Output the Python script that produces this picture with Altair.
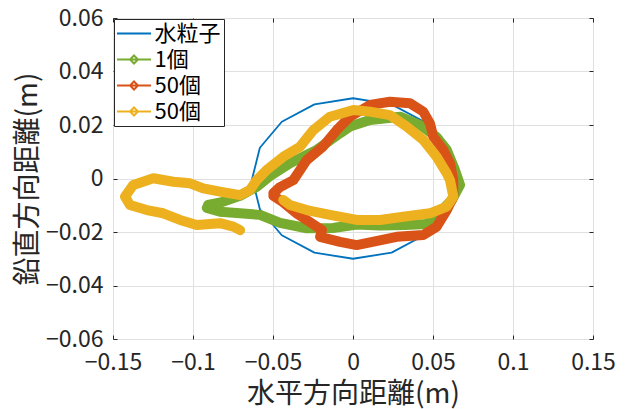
import altair as alt
import pandas as pd

# ---- data ----
series_keys = ["水粒子", "1個", "50個a", "50個b"]
series_colors = ["#0072BD", "#77AC30", "#D95319", "#EDB120"]

water_x = [0.0630, 0.0582, 0.0445, 0.0241, 0.0, -0.0241, -0.0445, -0.0582, -0.0630,
           -0.0582, -0.0445, -0.0241, 0.0, 0.0241, 0.0445, 0.0582, 0.0630]
water_y = [0.0, 0.0115, 0.0212, 0.0277, 0.0300, 0.0277, 0.0212, 0.0115, 0.0,
           -0.0115, -0.0212, -0.0277, -0.0300, -0.0277, -0.0212, -0.0115, 0.0]

one_x = [-0.0914, -0.0831, -0.0706, -0.0581, -0.0456, -0.0289, -0.0125, 0.0023, 0.0169,
         0.0325, 0.0461, 0.0544, 0.0619, 0.0669, 0.0637, 0.0586, 0.0523, 0.0419, 0.0294,
         0.0106, -0.0019, -0.0081, -0.0227, -0.0394, -0.0519, -0.0602, -0.0706, -0.0819,
         -0.0906]
one_y = [-0.0110, -0.0124, -0.0130, -0.0136, -0.0166, -0.0186, -0.0185, -0.0172, -0.0176,
         -0.0174, -0.0170, -0.0125, -0.0080, -0.0024, 0.0032, 0.0107, 0.0155, 0.0200, 0.0231,
         0.0219, 0.0194, 0.0169, 0.0107, 0.0057, 0.0009, -0.0031, -0.0065, -0.0088, -0.0099]

fiftyA_x = [-0.0498, -0.0456, -0.0373, -0.0289, -0.0188, -0.0102, -0.0019, 0.0106, 0.0231,
            0.0356, 0.0439, 0.0481, 0.0502, 0.0564, 0.0606, 0.0627, 0.0627, 0.0586, 0.0523,
            0.0439, 0.0273, 0.0023, -0.0081, -0.0206, -0.0194, -0.0269, -0.0356, -0.0438,
            -0.0498]
fiftyA_y = [-0.0055, -0.0032, -0.0006, 0.0069, 0.0119, 0.0181, 0.0231, 0.0275, 0.0287,
            0.0281, 0.0250, 0.0206, 0.0156, 0.0107, 0.0057, -0.0006, -0.0068, -0.0118, -0.0180,
            -0.0211, -0.0218, -0.0249, -0.0237, -0.0218, -0.0193, -0.0163, -0.0129, -0.0088,
            -0.0065]

fiftyB_x = [-0.0436, -0.0394, -0.0289, -0.0144, 0.0023, 0.0169, 0.0314, 0.0481, 0.0586,
            0.0627, 0.0606, 0.0586, 0.0523, 0.0439, 0.0336, 0.0231, 0.0106, 0.0002, -0.0144,
            -0.0248, -0.0331, -0.0436, -0.0539, -0.0602, -0.0644, -0.0706, -0.0831, -0.0936,
            -0.1019, -0.1123, -0.1248, -0.1373, -0.1425, -0.1394, -0.1289, -0.1186, -0.1081,
            -0.0977, -0.0831, -0.0748, -0.0706]
fiftyB_y = [-0.0080, -0.0099, -0.0118, -0.0136, -0.0155, -0.0155, -0.0143, -0.0130, -0.0105,
            -0.0068, -0.0006, 0.0019, 0.0081, 0.0144, 0.0194, 0.0237, 0.0250, 0.0256, 0.0231,
            0.0181, 0.0119, 0.0081, 0.0032, -0.0006, -0.0043, -0.0062, -0.0049, -0.0037,
            -0.0018, -0.0012, 0.0001, -0.0024, -0.0068, -0.0099, -0.0118, -0.0130, -0.0155,
            -0.0174, -0.0167, -0.0180, -0.0193]

x_ticks = [-0.15, -0.1, -0.05, 0, 0.05, 0.1, 0.15]
y_ticks = [-0.06, -0.04, -0.02, 0, 0.02, 0.04, 0.06]

x_title = "水平方向距離(m)"
y_title = "鉛直方向距離(m)"


def frame(xs, ys, key):
    return pd.DataFrame({"x": xs, "y": ys, "series": key, "i": list(range(len(xs)))})


FONT = "Noto Sans CJK JP"
INK = "#262626"
W, H = 480, 321

LINE_PATH = "M-1.62,0L1.62,0"
DIAMOND_PATH = "M-1.62,0L1.62,0M0,-0.38L0.38,0L0,0.38L-0.38,0Z"

xscale = alt.Scale(domain=[-0.15, 0.15], nice=False, zero=False)
yscale = alt.Scale(domain=[-0.06, 0.06], nice=False, zero=False)

legend = alt.Legend(
    title=None, orient="none", legendX=1, legendY=1,
    fillColor="white", strokeColor=INK, padding=3,
    labelFont=FONT, labelFontSize=22, labelColor="black",
    labelExpr="datum.label == '50個a' || datum.label == '50個b' ? '50個' : datum.label",
    symbolSize=441, symbolStrokeWidth=2, symbolOffset=5.5, labelOffset=9,
    symbolOpacity=1, rowPadding=3,
)
color = alt.Color("series:N", scale=alt.Scale(domain=series_keys, range=series_colors), legend=legend)
shape = alt.Shape("series:N",
                  scale=alt.Scale(domain=series_keys,
                                  range=[LINE_PATH, DIAMOND_PATH, DIAMOND_PATH, DIAMOND_PATH]),
                  legend=legend)

TICK_LABEL = "format(datum.value, '~g')"

main_x = alt.Axis(values=x_ticks, labelExpr=TICK_LABEL, labelFlush=False, title=x_title,
                  grid=True, gridColor="#e0e0e0", ticks=False, domain=False,
                  labelFont=FONT, labelFontSize=23, labelColor=INK, labelPadding=12,
                  titleFont=FONT, titleFontSize=28, titleColor=INK,
                  titleFontWeight="normal", titlePadding=6)
main_y = alt.Axis(values=y_ticks, labelExpr=TICK_LABEL, labelFlush=False, title=y_title,
                  grid=True, gridColor="#e0e0e0", ticks=False, domain=False,
                  labelFont=FONT, labelFontSize=23, labelColor=INK, labelPadding=10,
                  titleFont=FONT, titleFontSize=28, titleColor=INK,
                  titleFontWeight="normal", titlePadding=3)


def tick_axis(values, orient, offset):
    return alt.Axis(values=values, orient=orient, offset=offset, labels=False, grid=False,
                    domain=False, ticks=True, tickSize=4, tickColor=INK, title=None)


band = dict(strokeWidth=10, strokeCap="round", strokeJoin="round")

blue = alt.Chart(frame(water_x, water_y, "水粒子")).mark_line(strokeWidth=1.8, strokeJoin="round").encode(
    x=alt.X("x:Q", scale=xscale, axis=main_x),
    y=alt.Y("y:Q", scale=yscale, axis=main_y),
    order="i:Q", color=color)

green = alt.Chart(frame(one_x, one_y, "1個")).mark_line(**band).encode(
    x=alt.X("x:Q", scale=xscale, axis=None),
    y=alt.Y("y:Q", scale=yscale, axis=None),
    order="i:Q", color=color)

red = alt.Chart(frame(fiftyA_x, fiftyA_y, "50個a")).mark_line(**band).encode(
    x=alt.X("x:Q", scale=xscale, axis=tick_axis(x_ticks, "top", -H)),
    y=alt.Y("y:Q", scale=yscale, axis=tick_axis(y_ticks, "right", -W)),
    order="i:Q", color=color)

yellow = alt.Chart(frame(fiftyB_x, fiftyB_y, "50個b")).mark_line(**band).encode(
    x=alt.X("x:Q", scale=xscale, axis=tick_axis(x_ticks, "bottom", -H)),
    y=alt.Y("y:Q", scale=yscale, axis=tick_axis(y_ticks, "left", -W)),
    order="i:Q", color=color)

# invisible key layer: one point per series, only to give the legend its per-series symbols
key_df = pd.concat([frame(water_x[:1], water_y[:1], "水粒子"),
                    frame(one_x[:1], one_y[:1], "1個"),
                    frame(fiftyA_x[:1], fiftyA_y[:1], "50個a"),
                    frame(fiftyB_x[:1], fiftyB_y[:1], "50個b")])
keys = alt.Chart(key_df).mark_point(opacity=0, filled=False).encode(
    x=alt.X("x:Q", scale=xscale, axis=None),
    y=alt.Y("y:Q", scale=yscale, axis=None),
    color=color, shape=shape)

chart = alt.layer(blue, green, red, yellow, keys).resolve_axis(x="independent", y="independent").properties(
    width=W, height=H,
    autosize=alt.AutoSizeParams(type="none"),
    padding={"left": 105, "top": 10, "right": 27, "bottom": 70},
).configure_view(stroke=INK, strokeWidth=1).configure(background="white")

chart.save("out.html", embed_options={"renderer": "svg", "actions": False})
